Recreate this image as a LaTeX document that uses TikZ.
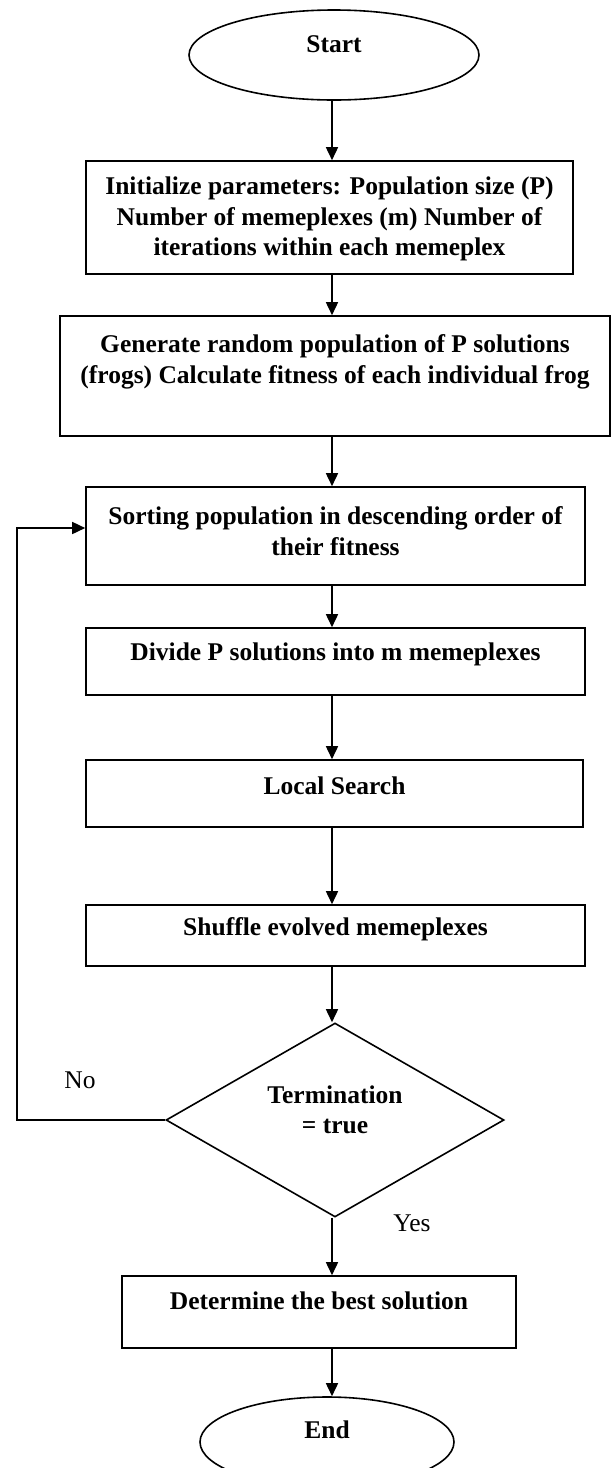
\documentclass[tikz,border=0pt]{standalone}
\usepackage{fontspec}
\setmainfont{Liberation Serif}
\usetikzlibrary{shapes.geometric,arrows.meta}
\begin{document}
\begin{tikzpicture}[x=1pt,y=-1pt,
  box/.style={draw, line width=1.6pt, rectangle, inner sep=0pt},
  oval/.style={draw, line width=1.6pt, ellipse, inner sep=0pt},
  txt/.style={font=\fontsize{25.5}{30.5}\selectfont\bfseries, align=center, inner sep=0pt},
  lbl/.style={font=\fontsize{25.5}{30.5}\selectfont, inner sep=0pt},
  arr/.style={line width=1.6pt, -{Triangle[width=12pt,length=13pt]}}]
\useasboundingbox (0,0) rectangle (611,1468);
\coordinate (col) at (332,0);
% shapes
\node[oval, minimum width=290pt, minimum height=90pt] (start) at (334,55) {};
\node[box, minimum width=487pt, minimum height=113pt] (b1) at (329.5,217.5) {};
\node[box, minimum width=550pt, minimum height=120pt] (b2) at (335,376) {};
\node[box, minimum width=499pt, minimum height=98pt] (b3) at (335.5,536) {};
\node[box, minimum width=499pt, minimum height=67pt] (b4) at (335.5,661.5) {};
\node[box, minimum width=497pt, minimum height=67pt] (b5) at (334.5,793.5) {};
\node[box, minimum width=499pt, minimum height=61pt] (b6) at (335.5,935.5) {};
\node[draw, line width=1.6pt, diamond, inner sep=0pt, minimum width=338pt, minimum height=194pt] (dec) at (335,1120) {};
\node[box, minimum width=394pt, minimum height=72pt] (b7) at (319,1312) {};
\node[oval, minimum width=254pt, minimum height=90pt] (end) at (327,1442) {};
% texts
\node[txt] (startt) at (334,44) {Start};
\node[txt] (b1t) at (329.5,219) {Initialize parameters: Population size (P)\\Number of memeplexes (m) Number of\\iterations within each memeplex};
\node[txt] (b2t) at (335,362) {Generate random population of P solutions\\(frogs) Calculate fitness of each individual frog};
\node[txt] (b3t) at (335.5,531) {Sorting population in descending order of\\their fitness};
\node[txt] (b4t) at (335.5,654) {Divide P solutions into m memeplexes};
\node[txt] (b5t) at (334.5,786) {Local Search};
\node[txt] (b6t) at (335.5,929) {Shuffle evolved memeplexes};
\node[txt] (dect) at (335,1110) {Termination\\= true};
\node[txt] (b7t) at (319,1301) {Determine the best solution};
\node[txt] (endt) at (327,1430) {End};
\node[lbl] (no) at (80,1080) {No};
\node[lbl] (yes) at (412,1223) {Yes};
% connectors
\draw[arr] (start.south -| col) -- (b1.north -| col);
\draw[arr] (b1.south -| col) -- (b2.north -| col);
\draw[arr] (b2.south -| col) -- (b3.north -| col);
\draw[arr] (b3.south -| col) -- (b4.north -| col);
\draw[arr] (b4.south -| col) -- (b5.north -| col);
\draw[arr] (b5.south -| col) -- (b6.north -| col);
\draw[arr] (b6.south -| col) -- (dec.north -| col);
\draw[arr] (dec.south -| col) -- (b7.north -| col);
\draw[arr] (b7.south -| col) -- (end.north -| col);
\draw[arr] (dec.west) -| ([xshift=-68pt,yshift=8pt]b3.west) -- ([yshift=8pt]b3.west);
\end{tikzpicture}
\end{document}
